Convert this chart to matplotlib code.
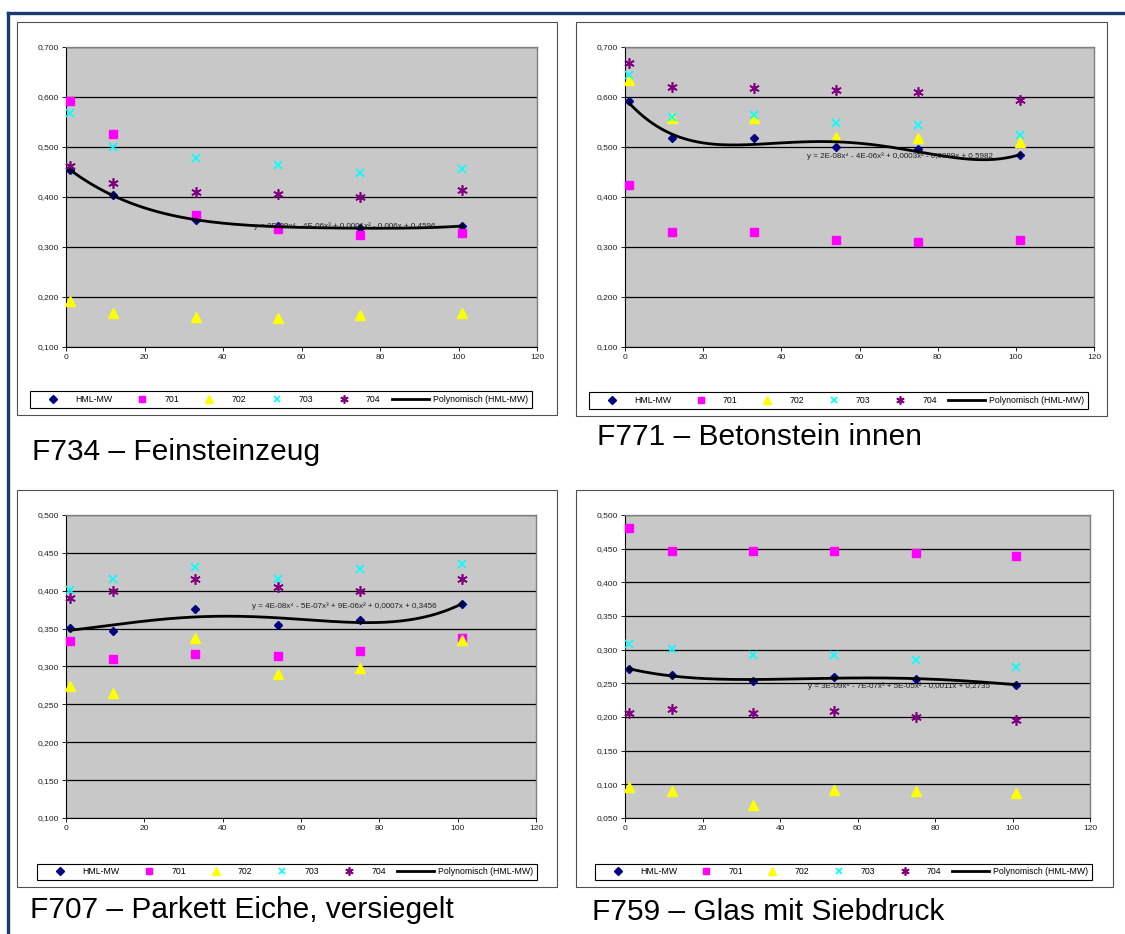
import numpy as np
import matplotlib.pyplot as plt
from matplotlib.patches import Rectangle
from matplotlib.lines import Line2D
from matplotlib.ticker import FuncFormatter

W, H = 1125, 934

# ---------------- DATA ----------------
x_vals = [1, 12, 33, 54, 75, 101]
series_names = ["HML-MW", "701", "702", "703", "704"]
trend_label = "Polynomisch (HML-MW)"

# F734 - Feinsteinzeug
f734_hml = [0.454, 0.404, 0.353, 0.342, 0.337, 0.342]
f734_701 = [0.592, 0.525, 0.364, 0.336, 0.323, 0.328]
f734_702 = [0.191, 0.167, 0.159, 0.157, 0.163, 0.167]
f734_703 = [0.568, 0.499, 0.477, 0.463, 0.447, 0.456]
f734_704 = [0.461, 0.427, 0.409, 0.405, 0.399, 0.414]

# F771 - Betonstein innen
f771_hml = [0.592, 0.517, 0.517, 0.500, 0.495, 0.484]
f771_701 = [0.424, 0.330, 0.330, 0.313, 0.309, 0.313]
f771_702 = [0.633, 0.557, 0.557, 0.520, 0.517, 0.510]
f771_703 = [0.643, 0.560, 0.564, 0.547, 0.544, 0.524]
f771_704 = [0.667, 0.620, 0.617, 0.613, 0.610, 0.594]

# F707 - Parkett Eiche, versiegelt
f707_hml = [0.351, 0.347, 0.376, 0.355, 0.362, 0.382]
f707_701 = [0.334, 0.310, 0.316, 0.314, 0.320, 0.338]
f707_702 = [0.274, 0.265, 0.338, 0.290, 0.298, 0.335]
f707_703 = [0.401, 0.416, 0.431, 0.416, 0.429, 0.435]
f707_704 = [0.390, 0.400, 0.415, 0.405, 0.400, 0.415]

# F759 - Glas mit Siebdruck
f759_hml = [0.271, 0.263, 0.253, 0.260, 0.256, 0.248]
f759_701 = [0.480, 0.447, 0.447, 0.447, 0.444, 0.439]
f759_702 = [0.096, 0.090, 0.069, 0.092, 0.090, 0.087]
f759_703 = [0.308, 0.301, 0.292, 0.292, 0.285, 0.275]
f759_704 = [0.206, 0.212, 0.206, 0.209, 0.200, 0.195]

titles = ["F734 \u2013 Feinsteinzeug", "F771 \u2013 Betonstein innen",
          "F707 \u2013 Parkett Eiche, versiegelt", "F759 \u2013 Glas mit Siebdruck"]
equations = [
    "y = 8E-09x\u2074 - 4E-06x\u00b3 + 0,0001x\u00b2 - 0,006x + 0,4596",
    "y = 2E-08x\u2074 - 4E-06x\u00b3 + 0,0003x\u00b2 - 0,0089x + 0,5982",
    "y = 4E-08x\u2074 - 5E-07x\u00b3 + 9E-06x\u00b2 + 0,0007x + 0,3456",
    "y = 3E-09x\u2074 - 7E-07x\u00b3 + 5E-05x\u00b2 - 0,0011x + 0,2735",
]
eq_pos = [(48, 0.341), (46.5, 0.482), (47.5, 0.380), (47.3, 0.246)]
y_ranges = [(0.1, 0.7, 0.1), (0.1, 0.7, 0.1), (0.1, 0.5, 0.05), (0.05, 0.5, 0.05)]

panel_data = [
    [f734_hml, f734_701, f734_702, f734_703, f734_704],
    [f771_hml, f771_701, f771_702, f771_703, f771_704],
    [f707_hml, f707_701, f707_702, f707_703, f707_704],
    [f759_hml, f759_701, f759_702, f759_703, f759_704],
]

# ---------------- LAYOUT (pixels, top-left origin) ----------------
frames = [(17, 22, 557, 415), (576, 22, 1107, 416), (17, 490, 557, 887), (576, 490, 1113, 887)]
plots = [(66, 47, 537, 347), (625, 47, 1094, 347), (66, 515, 536, 818), (625, 515, 1090, 818)]
legends = [(30, 390, 532, 409), (589, 391, 1088, 410), (37, 862, 537, 882), (595, 862, 1092, 882)]
title_pos = [(32, 460), (597, 445), (30, 918), (592, 920)]

styles = [
    dict(marker="D", color="#000080", ms=4.5),
    dict(marker="s", color="#ff00ff", ms=6),
    dict(marker="^", color="#ffff00", ms=7),
    dict(marker="x", color="#00ffff", ms=6, mew=1.2),
    dict(marker=(6, 2, 0), color="#800080", ms=7.5, mew=1.2),
]

FONT = ["Liberation Sans", "DejaVu Sans"]
plt.rcParams["font.family"] = FONT


def rect(l, t, r, b):
    return [l / W, 1 - b / H, (r - l) / W, (b - t) / H]


fmt = FuncFormatter(lambda v, p: f"{v:.3f}".replace(".", ","))

fig = plt.figure(figsize=(W / 100, H / 100), dpi=100)

# dark blue slide border
fig.add_artist(Line2D([8 / W, 1], [1 - 13 / H, 1 - 13 / H], transform=fig.transFigure,
                      color="#1b3a73", lw=2.4))
fig.add_artist(Line2D([8 / W, 8 / W], [1 - 13 / H, 0], transform=fig.transFigure,
                      color="#1b3a73", lw=2.4))

for i in range(4):
    l, t, r, b = frames[i]
    fig.add_artist(Rectangle((l / W, 1 - b / H), (r - l) / W, (b - t) / H,
                             transform=fig.transFigure, fill=False,
                             edgecolor="#505050", lw=0.8))

    ax = fig.add_axes(rect(*plots[i]))
    ax.set_facecolor("#c8c8c8")
    ylo, yhi, step = y_ranges[i]
    ax.set_xlim(0, 120)
    ax.set_ylim(ylo, yhi)
    ax.set_xticks(range(0, 121, 20))
    ax.set_yticks(np.arange(ylo, yhi + step / 2, step))
    ax.yaxis.set_major_formatter(fmt)
    ax.tick_params(labelsize=6, length=3, width=0.7, pad=2, colors="#202020")
    ax.yaxis.grid(True, color="black", lw=0.9)
    ax.set_axisbelow(True)
    for s in ["left", "bottom"]:
        ax.spines[s].set_color("black")
        ax.spines[s].set_linewidth(0.8)
    for s in ["top", "right"]:
        ax.spines[s].set_color("#808080")
        ax.spines[s].set_linewidth(1.0)

    handles = []
    for vals, st, name in zip(panel_data[i], styles, series_names):
        h, = ax.plot(x_vals, vals, ls="none", marker=st["marker"], color=st["color"],
                     mec=st["color"], ms=st["ms"], mew=st.get("mew", 1.0),
                     label=name, zorder=3, clip_on=False)
        handles.append(h)

    hml = panel_data[i][0]
    coef = np.polyfit(x_vals, hml, 4)
    xs = np.linspace(x_vals[0], x_vals[-1], 200)
    h, = ax.plot(xs, np.polyval(coef, xs), color="black", lw=2.0, zorder=4, label=trend_label)
    handles.append(h)

    ax.text(eq_pos[i][0], eq_pos[i][1], equations[i], fontsize=5.8, color="#202020",
            va="center", ha="left", zorder=5)

    ll, lt, lr, lb = legends[i]
    leg = fig.legend(handles, [hh.get_label() for hh in handles], loc="center",
                     bbox_to_anchor=rect(ll, lt, lr, lb), bbox_transform=fig.transFigure,
                     ncol=6, mode="expand", fontsize=6.3, frameon=True, fancybox=False,
                     edgecolor="black", framealpha=1, borderpad=0.45, borderaxespad=0,
                     handlelength=4.3, handletextpad=0.4, columnspacing=0.8,
                     markerscale=0.8)
    leg.get_frame().set_linewidth(0.8)

    tx, ty = title_pos[i]
    fig.text(tx / W, 1 - ty / H, titles[i], fontsize=21.5, va="baseline", ha="left")

fig.savefig("out.png", dpi=100)
